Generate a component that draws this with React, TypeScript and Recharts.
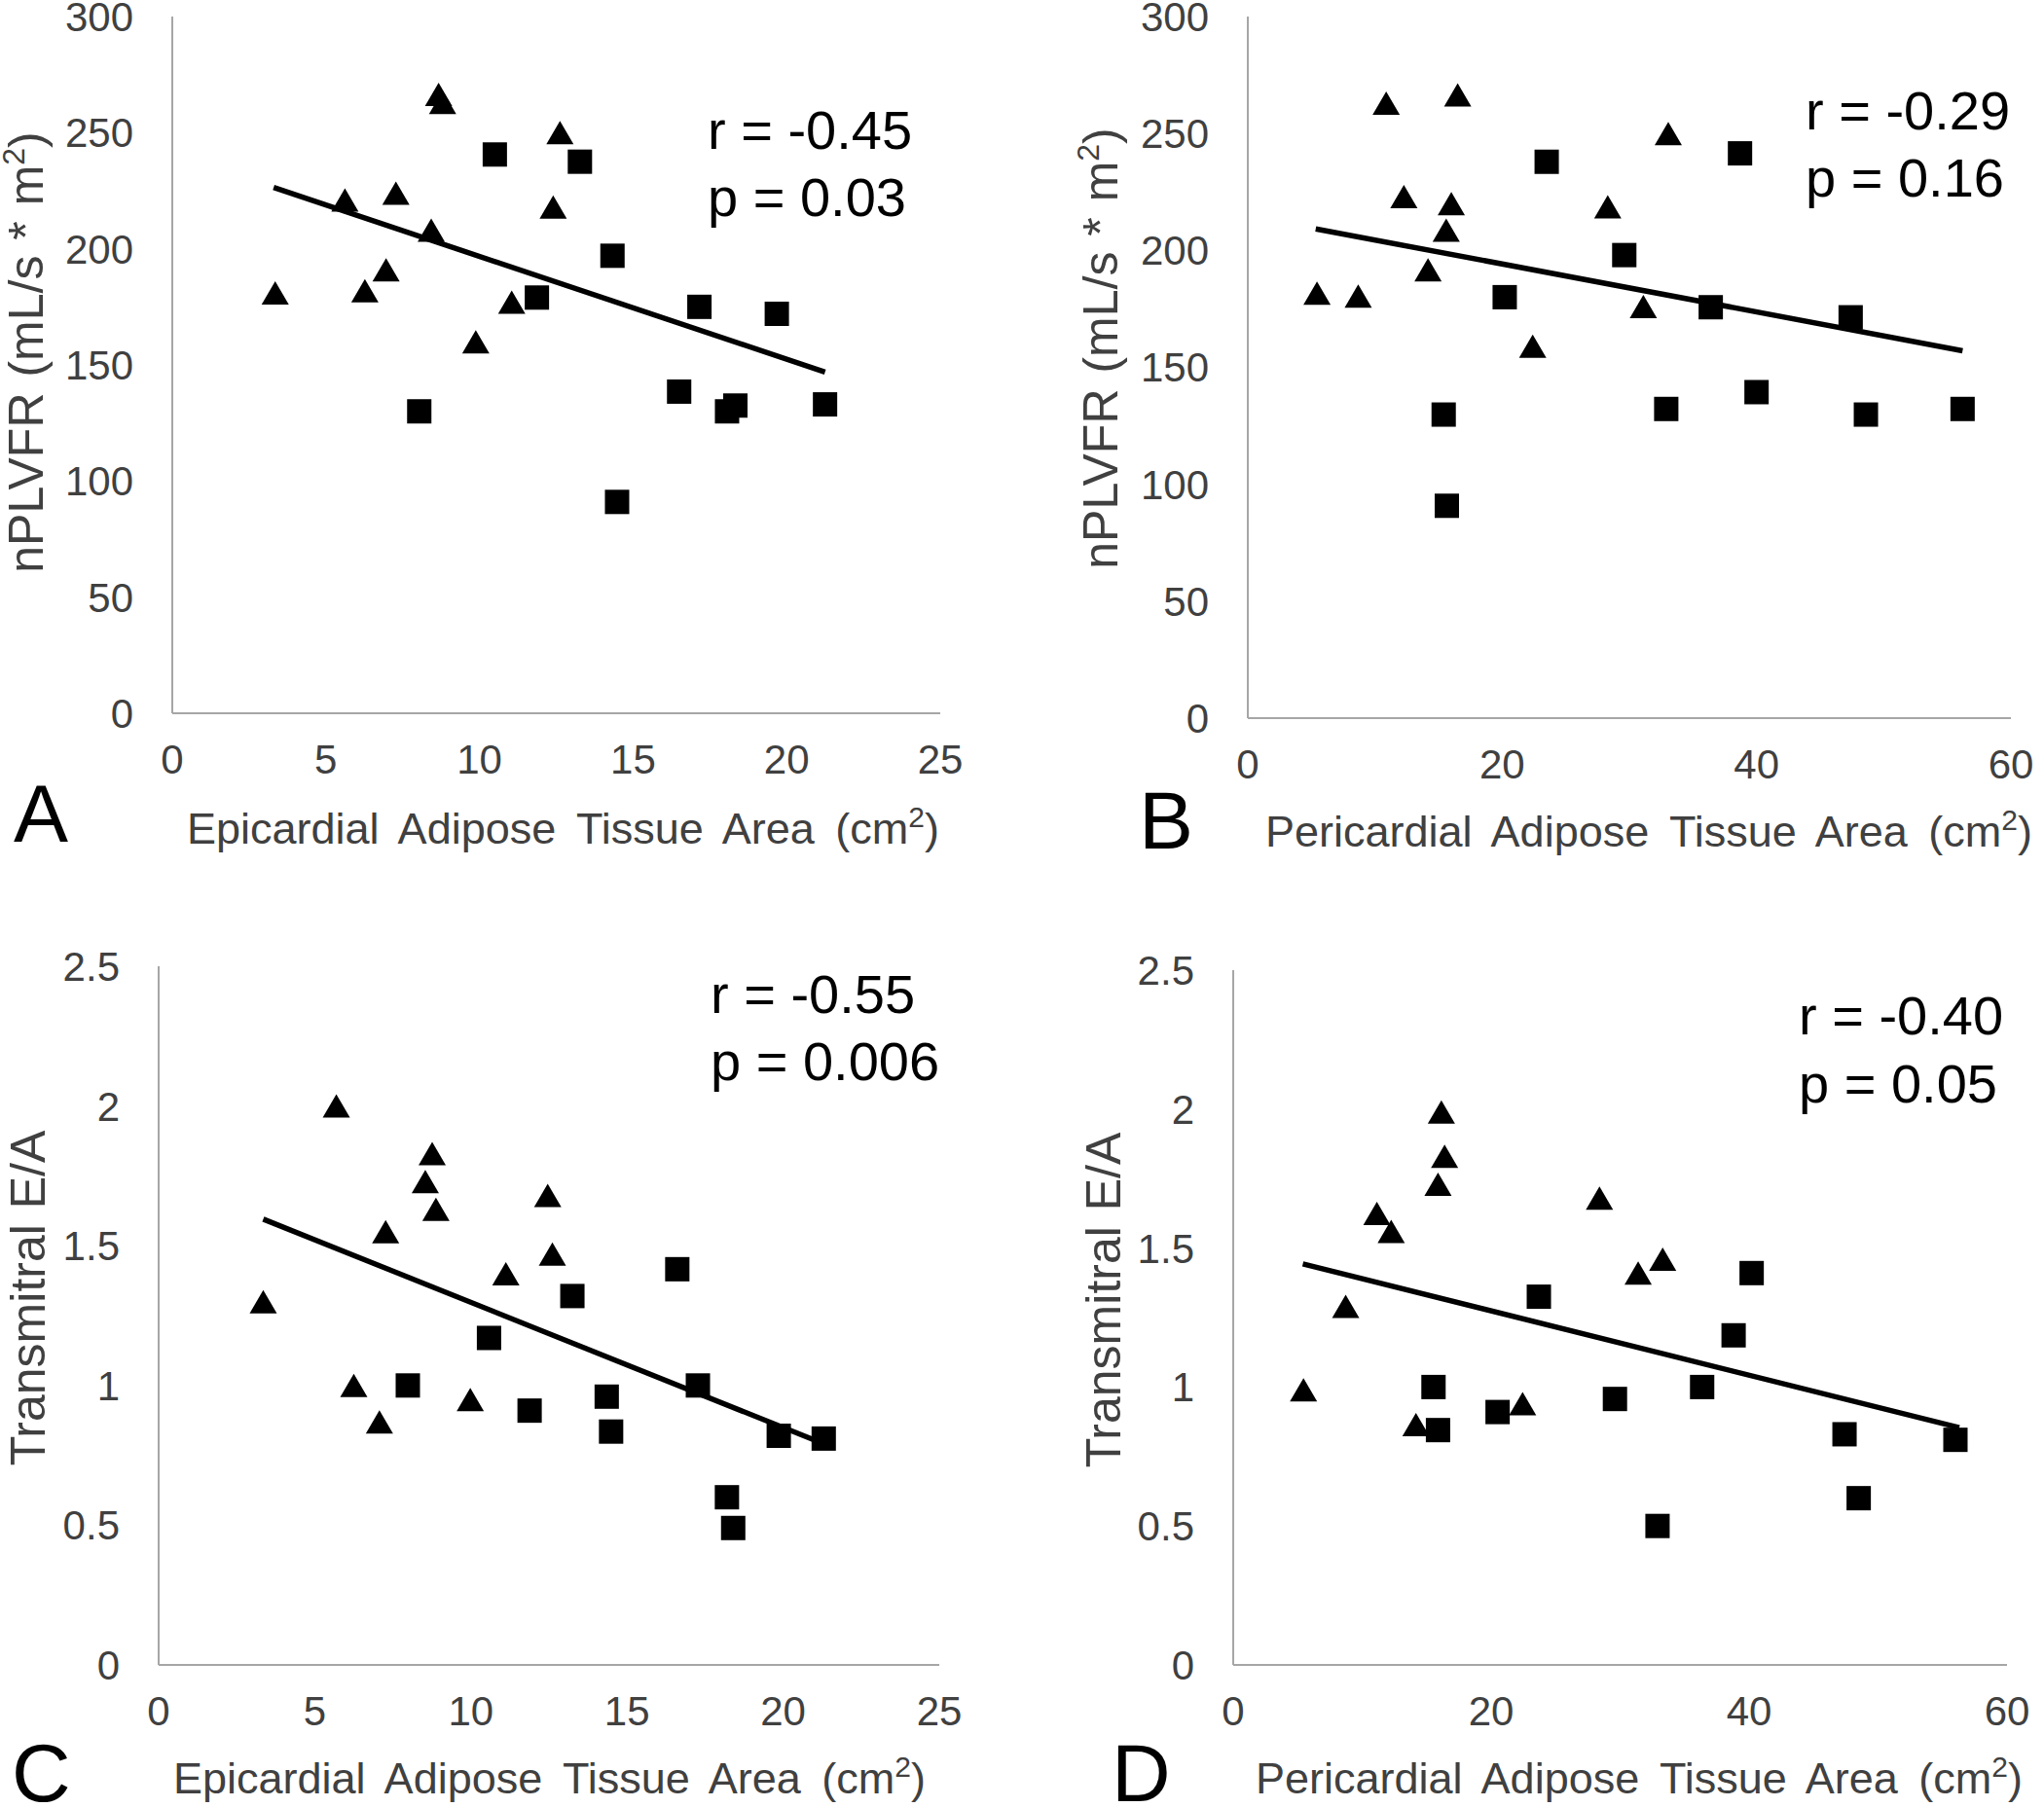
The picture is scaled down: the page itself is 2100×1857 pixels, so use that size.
import React from "react";
import { ScatterChart, Scatter, XAxis, YAxis } from "recharts";

// ---------- Data ----------
// Panel A: Epicardial adipose tissue area vs nPLVFR
const triA_x = [3.35, 5.62, 6.27, 6.96, 7.28, 8.43, 8.67, 8.8, 9.88, 11.05, 12.4, 12.62];
const triA_y = [181, 221, 182, 191, 224, 208, 266.5, 263, 160, 177, 218, 250];
const sqA_x = [8.04, 10.5, 11.87, 13.27, 14.33, 14.48, 16.5, 17.16, 18.06, 18.33, 19.68, 21.25];
const sqA_y = [130, 240.6, 179, 237.5, 197, 91, 138.5, 175, 130, 132.5, 172, 133];
const trendA_x = [3.3, 21.25];
const trendA_y = [226.4, 146.9];

// Panel B: Pericardial adipose tissue area vs nPLVFR
const triB_x = [5.44, 8.68, 10.88, 12.27, 14.17, 15.6, 16.0, 16.5, 22.4, 28.3, 31.1, 33.06];
const triB_y = [181.7, 180.5, 263, 223, 191.7, 208.7, 220, 266.5, 159, 218.7, 176, 250];
const sqB_x = [15.4, 15.65, 20.2, 23.5, 29.6, 32.9, 36.4, 38.7, 40.0, 47.4, 48.6, 56.2];
const sqB_y = [129.8, 90.8, 180, 237.9, 198, 132.2, 175.7, 241.5, 139.4, 171.4, 129.8, 132.2];
const trendB_x = [5.34, 56.2];
const trendB_y = [209.2, 157.1];

// Panel C: Epicardial adipose tissue area vs Transmitral E/A
const triC_x = [3.35, 5.69, 6.25, 7.07, 7.27, 8.54, 8.76, 8.88, 9.98, 11.12, 12.46, 12.61];
const triC_y = [1.3, 2.0, 1.0, 0.87, 1.55, 1.73, 1.83, 1.63, 0.95, 1.4, 1.68, 1.47];
const sqC_x = [7.98, 10.58, 11.88, 13.25, 14.35, 14.49, 16.61, 17.27, 18.2, 18.4, 19.86, 21.3];
const sqC_y = [1.0, 1.17, 0.91, 1.32, 0.96, 0.835, 1.416, 1.0, 0.6, 0.49, 0.82, 0.81];
const trendC_x = [3.35, 21.38];
const trendC_y = [1.595, 0.788];

// Panel D: Pericardial adipose tissue area vs Transmitral E/A
const triD_x = [5.45, 8.72, 11.14, 12.25, 14.17, 15.88, 16.14, 16.39, 22.44, 28.4, 31.4, 33.3];
const triD_y = [0.99, 1.29, 1.625, 1.56, 0.865, 1.73, 1.99, 1.83, 0.94, 1.68, 1.41, 1.46];
const sqD_x = [15.53, 15.88, 20.5, 23.7, 29.6, 32.9, 36.36, 38.8, 40.2, 47.4, 48.5, 56.0];
const sqD_y = [1.0, 0.845, 0.91, 1.325, 0.957, 0.5, 1.0, 1.186, 1.41, 0.83, 0.6, 0.81];
const trendD_x = [5.4, 56.3];
const trendD_y = [1.443, 0.854];

// Axis ticks
const epiTicks = [0, 5, 10, 15, 20, 25];
const periTicks = [0, 20, 40, 60];
const flowTicks = [0, 50, 100, 150, 200, 250, 300];
const eaTicks = [0, 0.5, 1, 1.5, 2, 2.5];

// Texts
const epiTitle = "Epicardial Adipose Tissue Area (cm";
const periTitle = "Pericardial Adipose Tissue Area (cm";
const flowTitle = "nPLVFR (mL/s * m";
const eaTitle = "Transmitral E/A";
const stats = {
  A: ["r = -0.45", "p = 0.03"],
  B: ["r = -0.29", "p = 0.16"],
  C: ["r = -0.55", "p = 0.006"],
  D: ["r = -0.40", "p = 0.05"],
};

const zip = (xs: number[], ys: number[]) => xs.map((x, i) => ({ x, y: ys[i] }));

const FONT = "'Liberation Sans', Arial, sans-serif";
const AXIS_COLOR = "#a6a6a6";
const TEXT_COLOR = "#404040";

const TriangleShape = (props: any) => {
  const { cx, cy } = props;
  if (cx == null || cy == null) return <g />;
  const w = 28;
  const h = 24;
  return (
    <polygon
      points={`${cx},${cy - h / 2} ${cx - w / 2},${cy + h / 2} ${cx + w / 2},${cy + h / 2}`}
      fill="#000"
    />
  );
};

const SquareShape = (props: any) => {
  const { cx, cy } = props;
  if (cx == null || cy == null) return <g />;
  const s = 25;
  return <rect x={cx - s / 2} y={cy - s / 2} width={s} height={s} fill="#000" />;
};

const EmptyShape = () => <g />;

type Box = { l: number; t: number; r: number; b: number };

function Panel(props: {
  box: Box;
  xDomain: [number, number];
  xTicks: number[];
  yDomain: [number, number];
  yTicks: number[];
  tri: { x: number; y: number }[];
  sq: { x: number; y: number }[];
  trend: { x: number; y: number }[];
}) {
  const { box, xDomain, xTicks, yDomain, yTicks, tri, sq, trend } = props;
  const YW = 160;
  const XH = 80;
  const MT = 30;
  const MR = 40;
  const plotW = box.r - box.l;
  const plotH = box.b - box.t;
  const tickStyle = { fill: TEXT_COLOR, fontSize: 42, fontFamily: FONT };
  return (
    <div style={{ position: "absolute", left: box.l - YW, top: box.t - MT }}>
      <ScatterChart
        width={YW + plotW + MR}
        height={MT + plotH + XH}
        margin={{ top: MT, right: MR, bottom: 0, left: 0 }}
      >
        <XAxis
          type="number"
          dataKey="x"
          domain={xDomain}
          ticks={xTicks}
          interval={0}
          allowDataOverflow
          height={XH}
          tickLine={false}
          tickSize={0}
          tickMargin={32}
          axisLine={{ stroke: AXIS_COLOR, strokeWidth: 2 }}
          tick={tickStyle}
        />
        <YAxis
          type="number"
          dataKey="y"
          domain={yDomain}
          ticks={yTicks}
          interval={0}
          allowDataOverflow
          width={YW}
          tickLine={false}
          tickSize={0}
          tickMargin={40}
          axisLine={{ stroke: AXIS_COLOR, strokeWidth: 2 }}
          tick={tickStyle}
        />
        <Scatter
          data={trend}
          fill="#000"
          line={{ stroke: "#000", strokeWidth: 5.5 }}
          shape={EmptyShape}
          isAnimationActive={false}
        />
        <Scatter data={tri} shape={TriangleShape} fill="#000" isAnimationActive={false} />
        <Scatter data={sq} shape={SquareShape} fill="#000" isAnimationActive={false} />
      </ScatterChart>
    </div>
  );
}

function XTitle({ x, y, text }: { x: number; y: number; text: string }) {
  return (
    <text x={x} y={y} fontFamily={FONT} fontSize={45} fill={TEXT_COLOR} wordSpacing={9}>
      {text}
      <tspan dy={-17} fontSize={30}>2</tspan>
      <tspan dy={17}>)</tspan>
    </text>
  );
}

function YTitle({ x, y, text, sup }: { x: number; y: number; text: string; sup: boolean }) {
  return (
    <text
      transform={`translate(${x},${y}) rotate(-90)`}
      textAnchor="middle"
      fontFamily={FONT}
      fontSize={50}
      fill={TEXT_COLOR}
      wordSpacing={2}
    >
      {text}
      {sup ? (
        <>
          <tspan dy={-19} fontSize={32}>2</tspan>
          <tspan dy={19}>)</tspan>
        </>
      ) : null}
    </text>
  );
}

function Stats({ x, y1, y2, lines }: { x: number; y1: number; y2: number; lines: string[] }) {
  return (
    <g fontFamily={FONT} fontSize={56} fill="#000">
      <text x={x} y={y1}>{lines[0]}</text>
      <text x={x} y={y2}>{lines[1]}</text>
    </g>
  );
}

function Letter({ x, y, t }: { x: number; y: number; t: string }) {
  return (
    <text x={x} y={y} fontFamily={FONT} fontSize={84} fill="#000">
      {t}
    </text>
  );
}

export default function App() {
  const boxA: Box = { l: 177, t: 17, r: 966, b: 733 };
  const boxB: Box = { l: 1282, t: 17, r: 2066, b: 738 };
  const boxC: Box = { l: 163, t: 993, r: 965, b: 1711 };
  const boxD: Box = { l: 1267, t: 997, r: 2062, b: 1711 };

  return (
    <div
      style={{
        position: "absolute",
        left: 0,
        top: 0,
        width: 2100,
        height: 1857,
        background: "#fff",
        overflow: "hidden",
      }}
    >
      <Panel
        box={boxA}
        xDomain={[0, 25]}
        xTicks={epiTicks}
        yDomain={[0, 300]}
        yTicks={flowTicks}
        tri={zip(triA_x, triA_y)}
        sq={zip(sqA_x, sqA_y)}
        trend={zip(trendA_x, trendA_y)}
      />
      <Panel
        box={boxB}
        xDomain={[0, 60]}
        xTicks={periTicks}
        yDomain={[0, 300]}
        yTicks={flowTicks}
        tri={zip(triB_x, triB_y)}
        sq={zip(sqB_x, sqB_y)}
        trend={zip(trendB_x, trendB_y)}
      />
      <Panel
        box={boxC}
        xDomain={[0, 25]}
        xTicks={epiTicks}
        yDomain={[0, 2.5]}
        yTicks={eaTicks}
        tri={zip(triC_x, triC_y)}
        sq={zip(sqC_x, sqC_y)}
        trend={zip(trendC_x, trendC_y)}
      />
      <Panel
        box={boxD}
        xDomain={[0, 60]}
        xTicks={periTicks}
        yDomain={[0, 2.5]}
        yTicks={eaTicks}
        tri={zip(triD_x, triD_y)}
        sq={zip(sqD_x, sqD_y)}
        trend={zip(trendD_x, trendD_y)}
      />
      <svg
        width={2100}
        height={1857}
        style={{ position: "absolute", left: 0, top: 0, pointerEvents: "none" }}
      >
        <Letter x={14} y={865} t="A" />
        <Letter x={1170} y={872} t="B" />
        <Letter x={12} y={1851} t="C" />
        <Letter x={1142} y={1851} t="D" />

        <XTitle x={192} y={867} text={epiTitle} />
        <XTitle x={1300} y={870} text={periTitle} />
        <XTitle x={178} y={1843} text={epiTitle} />
        <XTitle x={1290} y={1843} text={periTitle} />

        <YTitle x={44} y={362} text={flowTitle} sup={true} />
        <YTitle x={1148} y={358} text={flowTitle} sup={true} />
        <YTitle x={46} y={1334} text={eaTitle} sup={false} />
        <YTitle x={1151} y={1336} text={eaTitle} sup={false} />

        <Stats x={727} y1={153} y2={222} lines={stats.A} />
        <Stats x={1855} y1={133} y2={202} lines={stats.B} />
        <Stats x={730} y1={1041} y2={1110} lines={stats.C} />
        <Stats x={1848} y1={1063} y2={1133} lines={stats.D} />
      </svg>
    </div>
  );
}
